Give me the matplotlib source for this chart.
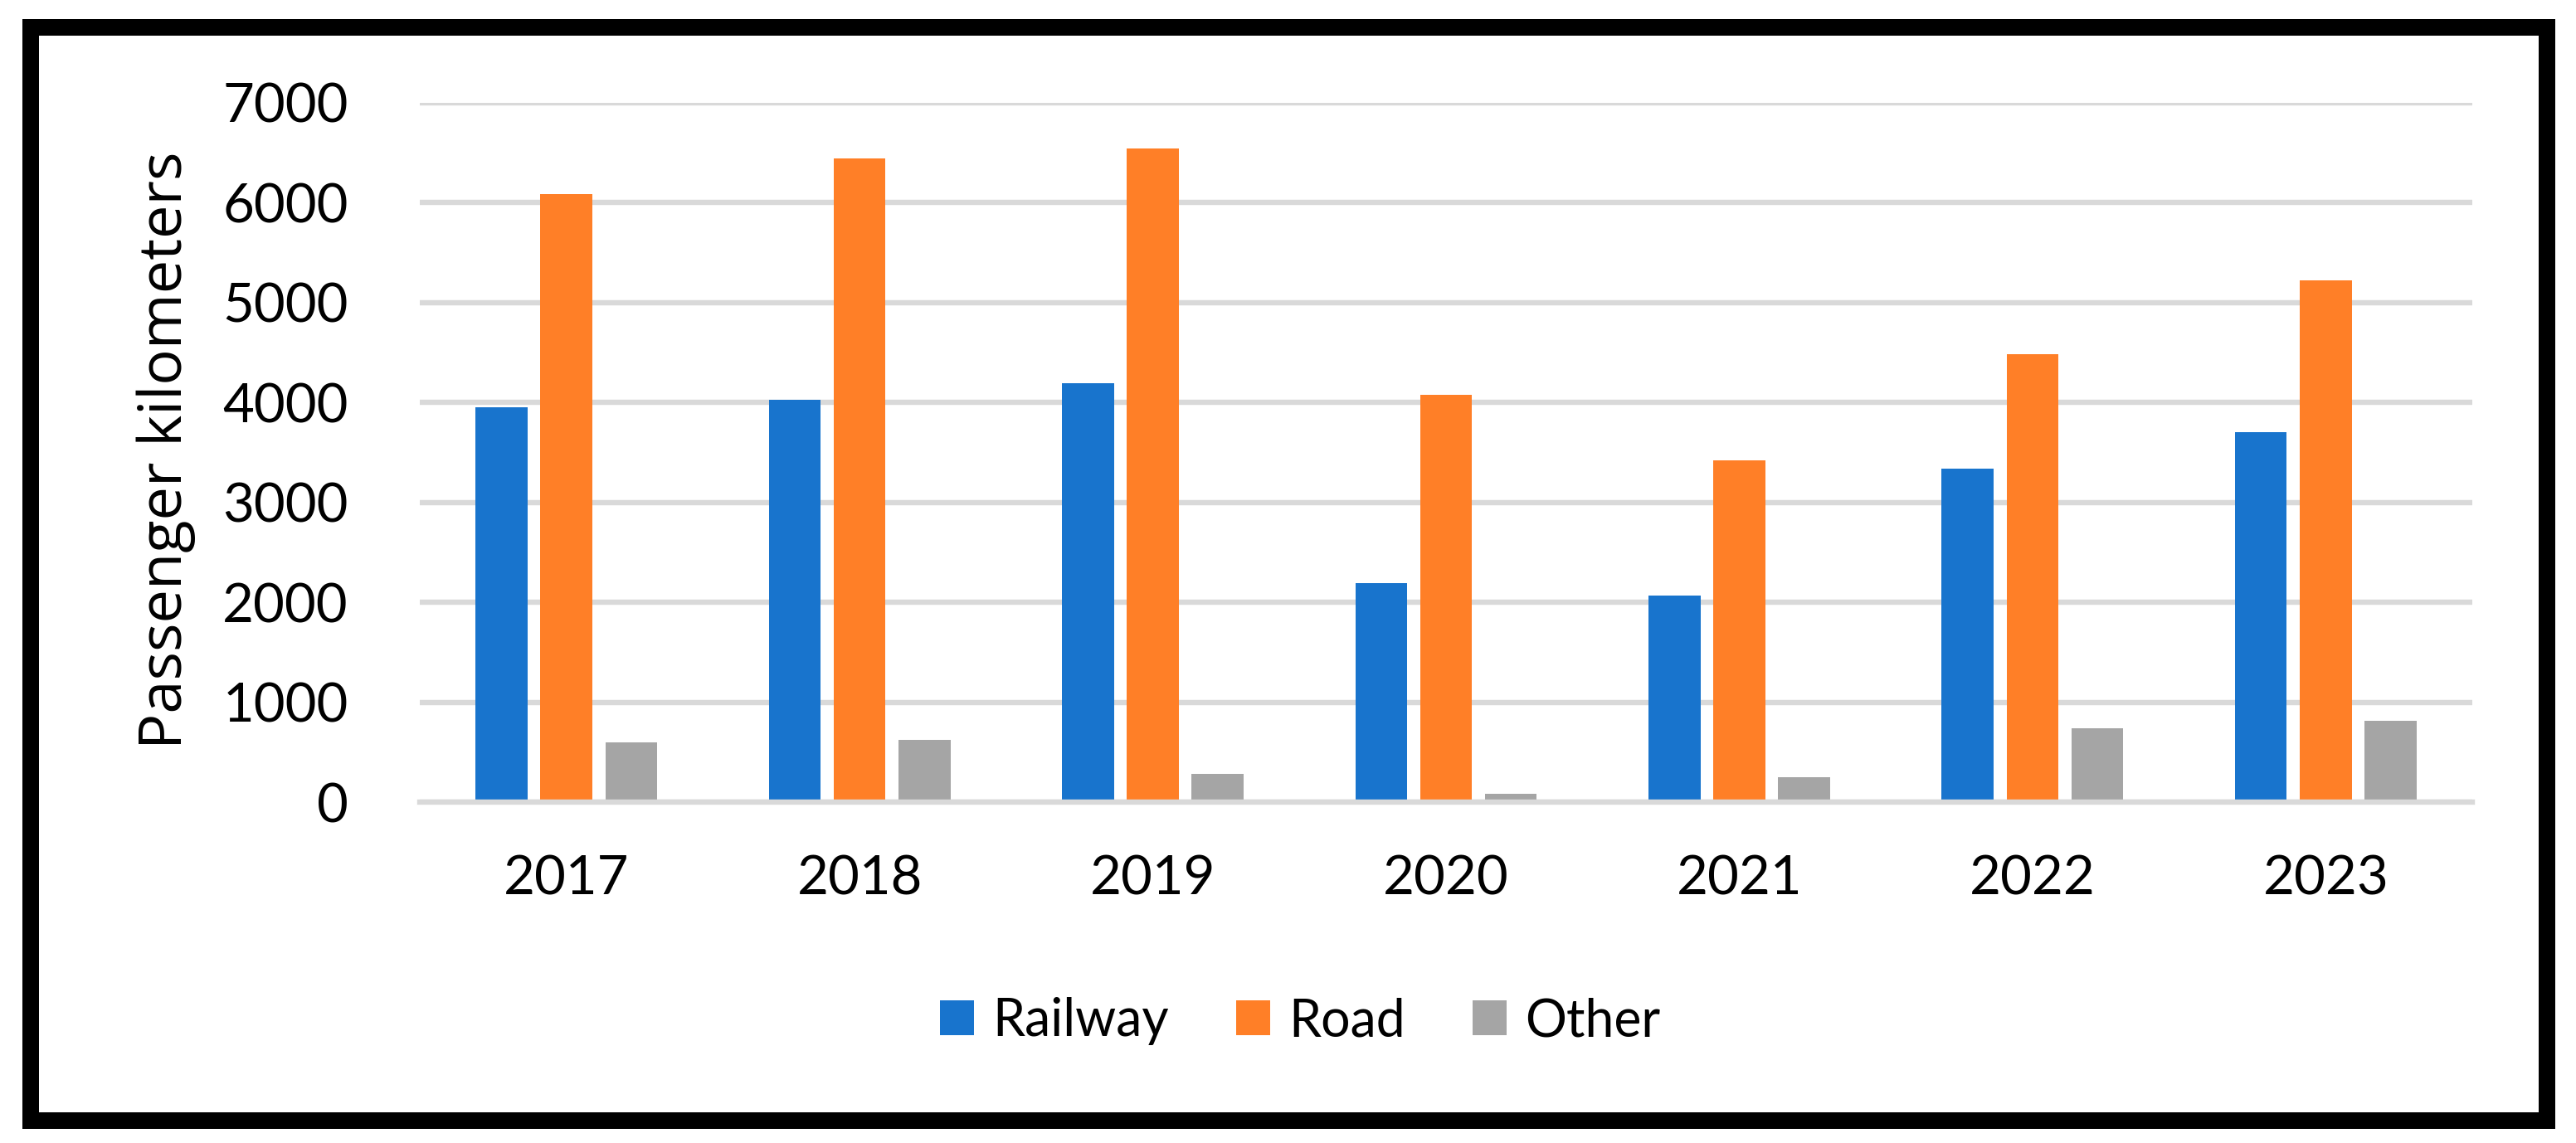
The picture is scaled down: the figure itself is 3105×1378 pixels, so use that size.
import matplotlib
matplotlib.use("Agg")
import matplotlib.pyplot as plt
from matplotlib.patches import Rectangle, Patch
import numpy as np

years = ['2017', '2018', '2019', '2020', '2021', '2022', '2023']
railway = [3950, 4025, 4190, 2195, 2065, 3340, 3705]
road = [6090, 6440, 6545, 4080, 3425, 4485, 5225]
other = [595, 625, 285, 85, 245, 740, 815]
series_names = ['Railway', 'Road', 'Other']
colors = ['#1874CD', '#FF7F27', '#A5A5A5']
yticks = [0, 1000, 2000, 3000, 4000, 5000, 6000, 7000]

W, H = 3105, 1378
fig = plt.figure(figsize=(W / 100, H / 100), dpi=100)
fig.patch.set_facecolor('white')

ax = fig.add_axes([506 / W, 1 - 967 / H, (2980 - 506) / W, (967 - 124) / H])
x = np.arange(len(years))
bw = 0.177
step = 0.221
for i, (vals, c) in enumerate(zip([railway, road, other], colors)):
    ax.bar(x + (i - 1) * step, vals, width=bw, color=c, zorder=2, label=series_names[i])

ax.set_xlim(-0.5, len(years) - 0.5)
ax.set_ylim(0, 7000)
ax.set_yticks(yticks)
ax.set_yticklabels([str(v) for v in yticks])
ax.set_xticks(x)
ax.set_xticklabels(years)
ax.yaxis.grid(True, color='#D9D9D9', linewidth=4.6, zorder=0)
ax.set_axisbelow(True)
ax.axhline(0, color='#D9D9D9', linewidth=4.6, zorder=3, clip_on=False)
for s in ax.spines.values():
    s.set_visible(False)
ax.tick_params(axis='both', length=0)
ax.tick_params(axis='y', pad=62)
ax.tick_params(axis='x', pad=46)
for lab in ax.get_yticklabels() + ax.get_xticklabels():
    lab.set_fontfamily('Lato')
    lab.set_fontsize(47)
    lab.set_color('black')

fig.text(200 / W, 1 - 543 / H, 'Passenger kilometers', rotation=90,
         ha='center', va='center', fontsize=52, family='Open Sans', color='black')

handles = [Patch(facecolor=c, edgecolor='none') for c in colors]
leg = fig.legend(handles, series_names, loc='center', bbox_to_anchor=(1567 / W, 1 - 1231 / H),
                 ncol=3, frameon=False, prop={'family': 'Lato', 'size': 45},
                 handlelength=0.66, handleheight=0.66, handletextpad=0.35,
                 columnspacing=1.3, borderaxespad=0)

frame = Rectangle((37 / W, 1 - 1351 / H), (3070 - 37) / W, (1351 - 33) / H,
                  transform=fig.transFigure, fill=False, edgecolor='black',
                  linewidth=14.4, joinstyle='miter')
fig.patches.append(frame)

fig.savefig('out.png', dpi=100, facecolor='white')
